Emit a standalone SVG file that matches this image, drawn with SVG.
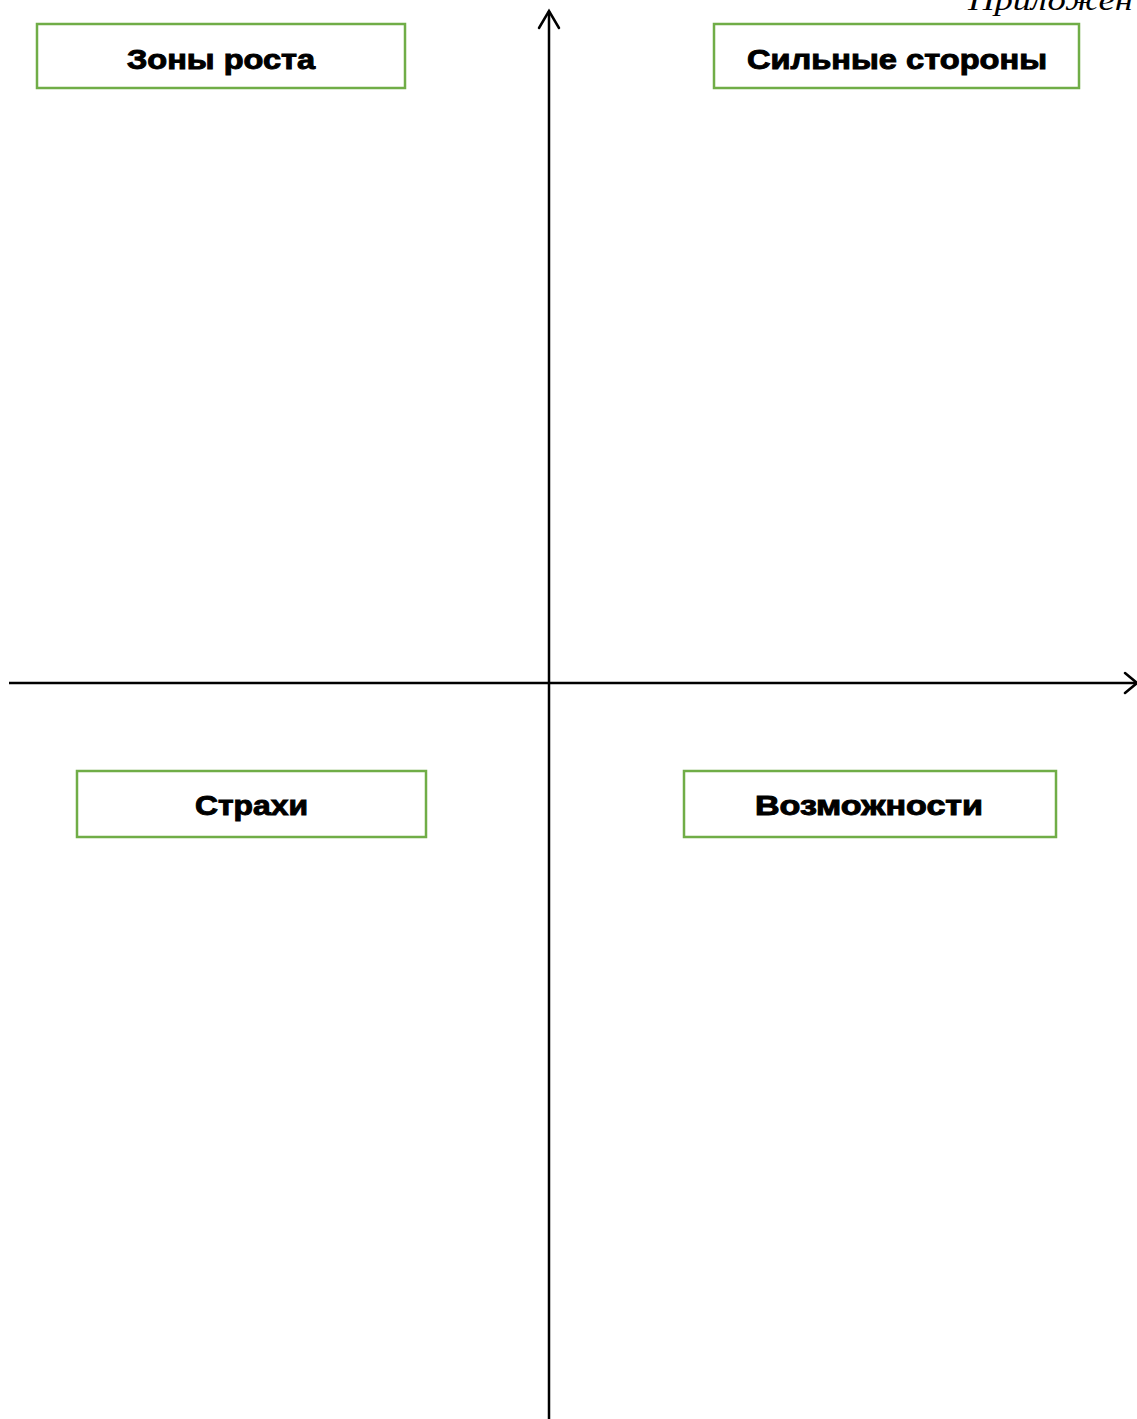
<svg xmlns="http://www.w3.org/2000/svg" width="1137" height="1419" viewBox="0 0 1137 1419">
  <style>
    .box { fill: #ffffff; stroke: #70AD47; stroke-width: 2.5; }
    .lbl { font-family: "Liberation Sans", Arial, sans-serif; font-weight: bold; font-size: 28px; fill: #000000; stroke: #000000; stroke-width: 1; text-anchor: middle; }
    .axis { stroke: #000000; stroke-width: 2.5; fill: none; }
    .head { stroke: #000000; stroke-width: 2.5; fill: none; stroke-linecap: round; stroke-linejoin: miter; }
    .note { font-family: "Liberation Serif", "Times New Roman", serif; font-style: italic; font-size: 30px; fill: #000000; }
  </style>
  <rect width="1137" height="1419" fill="#ffffff"/>
  <text class="note" x="968" y="10" textLength="165" lengthAdjust="spacingAndGlyphs">Приложен</text>
  <g id="connectors">
    <line class="axis" x1="549" y1="11" x2="549" y2="1419"/>
    <polyline class="head" points="539,28 549,11 559,28"/>
    <line class="axis" x1="9" y1="683" x2="1136" y2="683"/>
    <polyline class="head" points="1125,673 1137,683 1125,693"/>
  </g>
  <g id="node-zones">
    <rect class="box" x="37" y="24" width="368" height="64"/>
    <text class="lbl" x="221" y="69" textLength="188" lengthAdjust="spacingAndGlyphs">Зоны роста</text>
  </g>
  <g id="node-strengths">
    <rect class="box" x="714" y="24" width="365" height="64"/>
    <text class="lbl" x="897" y="69" textLength="300" lengthAdjust="spacingAndGlyphs">Сильные стороны</text>
  </g>
  <g id="node-fears">
    <rect class="box" x="77" y="771" width="349" height="66"/>
    <text class="lbl" x="251.5" y="815" textLength="113" lengthAdjust="spacingAndGlyphs">Страхи</text>
  </g>
  <g id="node-opportunities">
    <rect class="box" x="684" y="771" width="372" height="66"/>
    <text class="lbl" x="869" y="815" textLength="228" lengthAdjust="spacingAndGlyphs">Возможности</text>
  </g>
</svg>
